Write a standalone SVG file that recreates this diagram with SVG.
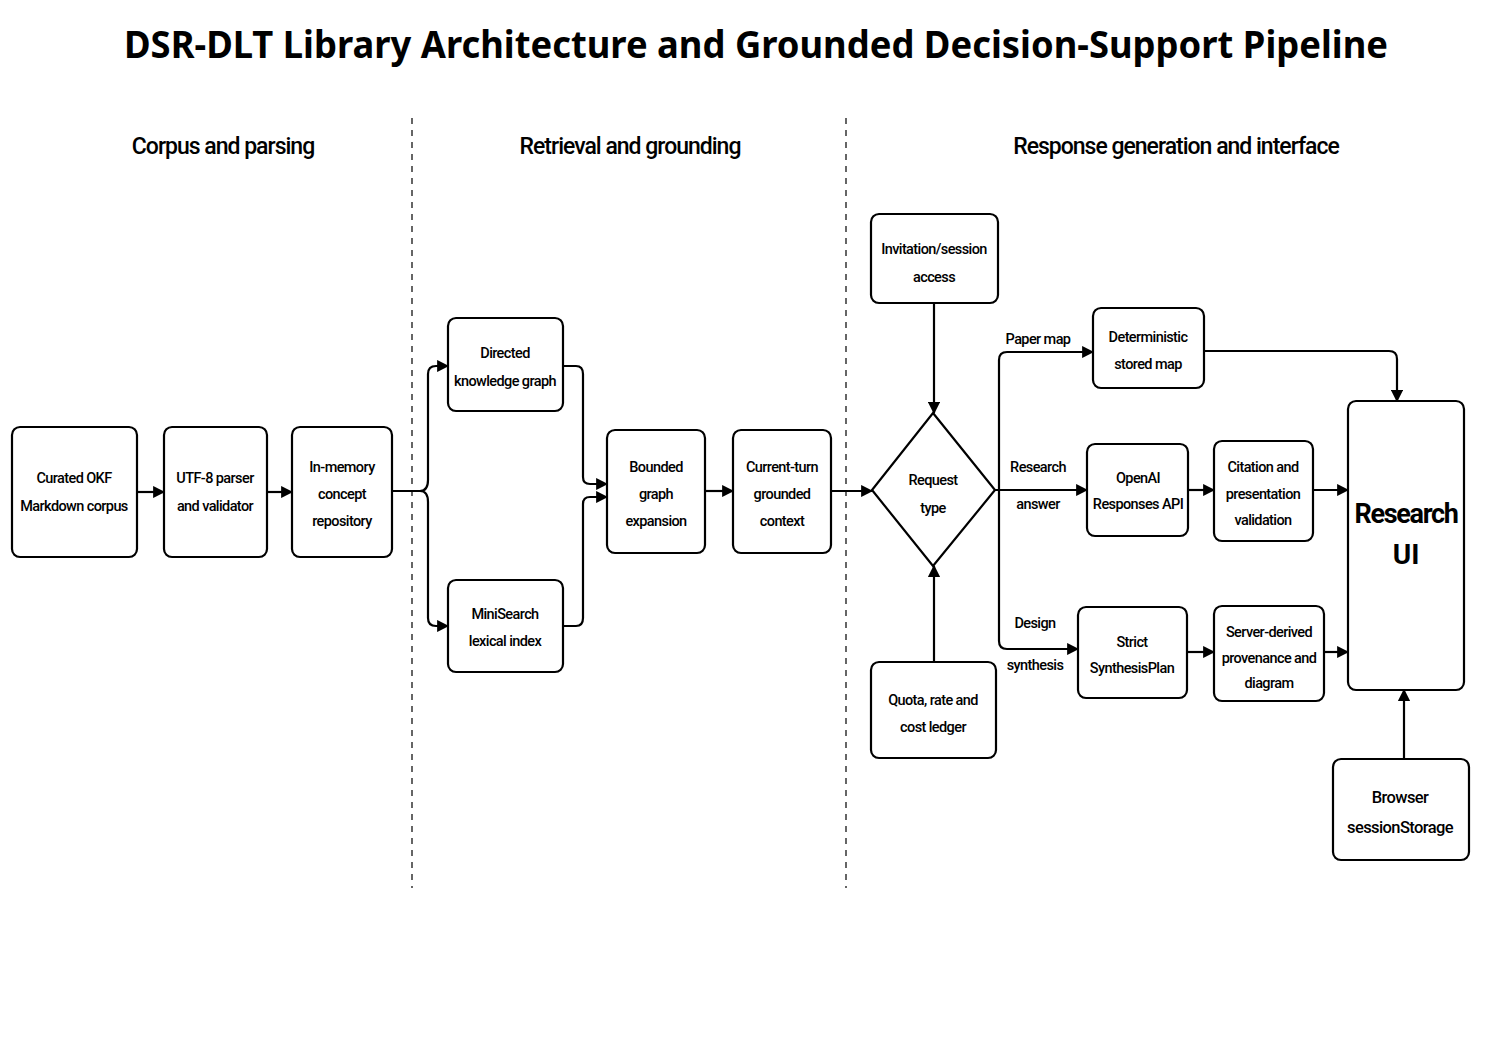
<svg xmlns="http://www.w3.org/2000/svg" width="1491" height="1055" viewBox="0 0 1491 1055">
<defs>
<marker id="ah" viewBox="0 0 10 10" refX="9" refY="5" markerWidth="5.5" markerHeight="5.5" orient="auto"><path d="M0,0 L10,5 L0,10 z" fill="#000"/></marker>
<style>
.n{fill:#fff;stroke:#000;stroke-width:2.2}
.t{font-family:"Roboto","Liberation Sans",sans-serif;font-size:14.5px;text-anchor:middle;fill:#000;font-weight:500;letter-spacing:-0.6px}
.h{font-family:"Roboto","Liberation Sans",sans-serif;font-size:23px;text-anchor:middle;fill:#000;font-weight:500;letter-spacing:-1px}
.c{fill:none;stroke:#000;stroke-width:2.2;marker-end:url(#ah)}
.d{stroke:#000;stroke-width:1.2;stroke-dasharray:6,6}
</style>
</defs>
<rect width="1491" height="1055" fill="#fff"/>
<text x="756" y="58" font-family="Noto Sans,DejaVu Sans,sans-serif" font-weight="bold" font-size="37" text-anchor="middle" textLength="1264" lengthAdjust="spacingAndGlyphs">DSR-DLT Library Architecture and Grounded Decision-Support Pipeline</text>
<text class="h" x="223" y="154">Corpus and parsing</text>
<text class="h" x="630" y="154">Retrieval and grounding</text>
<text class="h" x="1176" y="154">Response generation and interface</text>
<line class="d" x1="412" y1="118" x2="412" y2="888"/>
<line class="d" x1="846" y1="118" x2="846" y2="888"/>
<g id="connectors">
<path class="c" d="M137,492 H164"/>
<path class="c" d="M267,492 H292"/>
<path class="c" d="M392,491 H420 Q428,491 428,480 V374 Q428,366 436,366 H448"/>
<path class="c" d="M392,491 H420 Q428,491 428,502 V618 Q428,626 436,626 H448"/>
<path class="c" d="M563,366 H576 Q583,366 583,374 V477 Q583,484 590,484 H607"/>
<path class="c" d="M563,626 H576 Q583,626 583,618 V504 Q583,497 590,497 H607"/>
<path class="c" d="M705,491 H733"/>
<path class="c" d="M831,491 H872"/>
<path class="c" d="M934,303 V413"/>
<path class="c" d="M934,662 V566"/>
<path class="c" d="M995,490 H999 V360 Q999,352 1007,352 H1093"/>
<path class="c" d="M995,490 H1087"/>
<path class="c" d="M995,490 H999 V641 Q999,649 1007,649 H1078"/>
<path class="c" d="M1204,351 H1389 Q1397,351 1397,359 V401"/>
<path class="c" d="M1188,490 H1214"/>
<path class="c" d="M1313,490 H1348"/>
<path class="c" d="M1187,652 H1214"/>
<path class="c" d="M1324,652 H1348"/>
<path class="c" d="M1404,759 V690"/>
<text class="t" x="1038" y="344">Paper map</text>
<text class="t" x="1038" y="472">Research</text>
<text class="t" x="1038" y="509">answer</text>
<text class="t" x="1035" y="628">Design</text>
<text class="t" x="1035" y="670">synthesis</text>
</g>
<g id="curated"><rect class="n" x="12" y="427" width="125" height="130" rx="8"/><text class="t" x="74" y="483">Curated OKF</text><text class="t" x="74" y="511">Markdown corpus</text></g>
<g id="utf8"><rect class="n" x="164" y="427" width="103" height="130" rx="8"/><text class="t" x="215" y="483">UTF-8 parser</text><text class="t" x="215" y="511">and validator</text></g>
<g id="inmem"><rect class="n" x="292" y="427" width="100" height="130" rx="8"/><text class="t" x="342" y="472">In-memory</text><text class="t" x="342" y="499">concept</text><text class="t" x="342" y="526">repository</text></g>
<g id="directed"><rect class="n" x="448" y="318" width="115" height="93" rx="8"/><text class="t" x="505" y="358">Directed</text><text class="t" x="505" y="386">knowledge graph</text></g>
<g id="minisearch"><rect class="n" x="448" y="580" width="115" height="92" rx="8"/><text class="t" x="505" y="619">MiniSearch</text><text class="t" x="505" y="646">lexical index</text></g>
<g id="bounded"><rect class="n" x="607" y="430" width="98" height="123" rx="8"/><text class="t" x="656" y="472">Bounded</text><text class="t" x="656" y="499">graph</text><text class="t" x="656" y="526">expansion</text></g>
<g id="current"><rect class="n" x="733" y="430" width="98" height="123" rx="8"/><text class="t" x="782" y="472">Current-turn</text><text class="t" x="782" y="499">grounded</text><text class="t" x="782" y="526">context</text></g>
<g id="request"><path class="n" d="M933,413 L995,490 L933,566 L872,490 Z"/><text class="t" x="933" y="485">Request</text><text class="t" x="933" y="513">type</text></g>
<g id="invitation"><rect class="n" x="871" y="214" width="127" height="89" rx="8"/><text class="t" x="934" y="254">Invitation/session</text><text class="t" x="934" y="282">access</text></g>
<g id="quota"><rect class="n" x="871" y="662" width="125" height="96" rx="8"/><text class="t" x="933" y="705">Quota, rate and</text><text class="t" x="933" y="732">cost ledger</text></g>
<g id="deterministic"><rect class="n" x="1093" y="308" width="111" height="80" rx="8"/><text class="t" x="1148" y="342">Deterministic</text><text class="t" x="1148" y="369">stored map</text></g>
<g id="openai"><rect class="n" x="1087" y="444" width="101" height="92" rx="8"/><text class="t" x="1138" y="483">OpenAI</text><text class="t" x="1138" y="509">Responses API</text></g>
<g id="citation"><rect class="n" x="1214" y="441" width="99" height="100" rx="8"/><text class="t" x="1263" y="472">Citation and</text><text class="t" x="1263" y="499">presentation</text><text class="t" x="1263" y="525">validation</text></g>
<g id="strict"><rect class="n" x="1078" y="607" width="109" height="91" rx="8"/><text class="t" x="1132" y="647">Strict</text><text class="t" x="1132" y="673">SynthesisPlan</text></g>
<g id="server"><rect class="n" x="1214" y="606" width="110" height="95" rx="8"/><text class="t" x="1269" y="637">Server-derived</text><text class="t" x="1269" y="663">provenance and</text><text class="t" x="1269" y="688">diagram</text></g>
<g id="researchui"><rect class="n" x="1348" y="401" width="116" height="289" rx="8"/><text x="1406" y="523" font-family="Roboto,Liberation Sans,sans-serif" font-weight="bold" font-size="27" text-anchor="middle" letter-spacing="-1.3">Research</text><text x="1406" y="564" font-family="Roboto,Liberation Sans,sans-serif" font-weight="bold" font-size="28" text-anchor="middle">UI</text></g>
<g id="browser"><rect class="n" x="1333" y="759" width="136" height="101" rx="8"/><text class="t" x="1400" y="803" style="font-size:16.5px">Browser</text><text class="t" x="1400" y="833" style="font-size:16.5px">sessionStorage</text></g>
</svg>
